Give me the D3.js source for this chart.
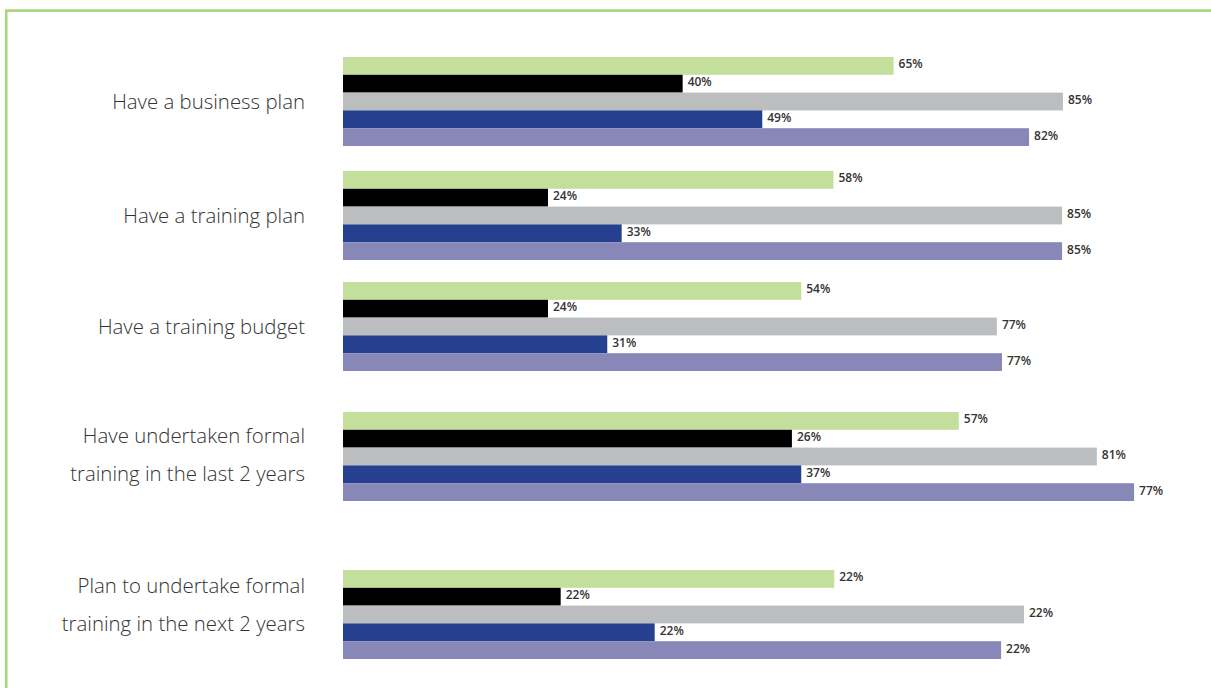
<!DOCTYPE html>
<html>
<head>
    <title>Business planning and training</title>
    <script src="https://d3js.org/d3.v7.min.js"></script>
    <style>
        body { margin: 0; background: #fff; }
        .cat { font: 300 20.4px "Open Sans", sans-serif; fill: #333; }
        .val { font: 600 12px "Open Sans", sans-serif; fill: #333; }
    </style>
</head>
<body>
<svg width="1211" height="688"></svg>
<script>
    // categories (label lines)
    var categories = [
        ["Have a business plan"],
        ["Have a training plan"],
        ["Have a training budget"],
        ["Have undertaken formal", "training in the last 2 years"],
        ["Plan to undertake formal", "training in the next 2 years"]
    ];
    var series = ["s1", "s2", "s3", "s4", "s5"];
    var colors = ["#c3df9b", "#000000", "#bcbdbf", "#25408f", "#8888b8"];

    // bar lengths as drawn (percent scale)
    var s1 = [65, 57.9, 54.1, 72.7, 58];
    var s2 = [40.1, 24.2, 24.2, 53, 25.7];
    var s3 = [85, 84.9, 77.2, 89, 80.4];
    var s4 = [49.5, 32.9, 31.2, 54.1, 36.8];
    var s5 = [81, 84.9, 77.8, 93.4, 77.7];

    // value labels as printed
    var l1 = ["65%", "58%", "54%", "57%", "22%"];
    var l2 = ["40%", "24%", "24%", "26%", "22%"];
    var l3 = ["85%", "85%", "77%", "81%", "22%"];
    var l4 = ["49%", "33%", "31%", "37%", "22%"];
    var l5 = ["82%", "85%", "77%", "77%", "22%"];

    var values = [s1, s2, s3, s4, s5];
    var labels = [l1, l2, l3, l4, l5];

    var svg = d3.select("svg");

    // frame
    svg.append("rect")
        .attr("x", 6.2).attr("y", 10.6)
        .attr("width", 1400).attr("height", 900)
        .attr("fill", "none")
        .attr("stroke", "#a8d57c")
        .attr("stroke-width", 2.6);

    var keys = categories.map((d, i) => i);

    var x = d3.scaleLinear().domain([0, 100]).range([343, 1190]);
    var groupY = d3.scaleOrdinal().domain(keys).range([57, 171, 282, 412, 570]);
    var inner = d3.scaleBand().domain(series).range([0, 89]).padding(0);

    var groups = svg.selectAll("g.group")
        .data(keys)
        .enter().append("g")
        .attr("class", "group")
        .attr("transform", d => "translate(0," + groupY(d) + ")");

    groups.each(function(gi) {
        var g = d3.select(this);
        var rows = series.map((s, si) => ({s: s, v: values[si][gi], label: labels[si][gi], c: colors[si]}));

        g.selectAll("rect")
            .data(rows)
            .enter().append("rect")
            .attr("x", x(0))
            .attr("y", d => inner(d.s))
            .attr("width", d => x(d.v) - x(0))
            .attr("height", inner.bandwidth())
            .attr("fill", d => d.c);

        g.selectAll("text.val")
            .data(rows)
            .enter().append("text")
            .attr("class", "val")
            .attr("x", d => x(d.v) + 5)
            .attr("y", d => inner(d.s) + inner.bandwidth() / 2 + 2.5)
            .text(d => d.label);

        var lines = categories[gi];
        var lh = 38.5;
        var mid = 89 / 2 + (gi === 4 ? -10 : 0) + (gi === 3 ? -2 : 0);
        g.selectAll("text.cat")
            .data(lines)
            .enter().append("text")
            .attr("class", "cat")
            .attr("x", 305)
            .attr("text-anchor", "end")
            .attr("y", (d, i) => mid + (i - (lines.length - 1) / 2) * lh + 7.5)
            .text(d => d);
    });
</script>
</body>
</html>
